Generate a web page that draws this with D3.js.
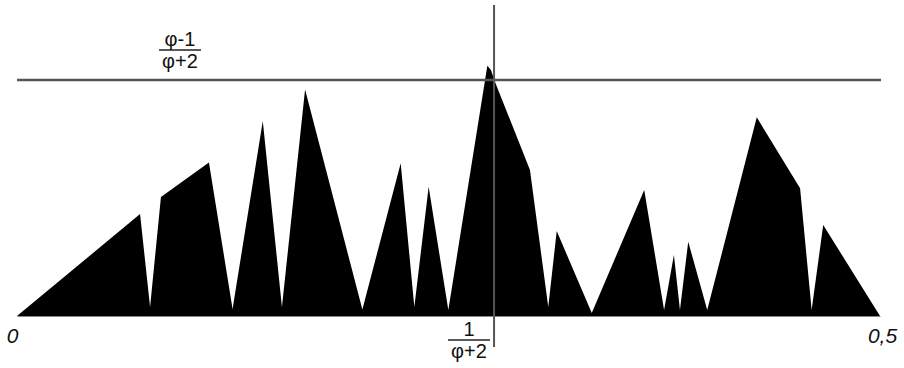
<!DOCTYPE html>
<html>
<head>
<meta charset="utf-8">
<script src="https://cdn.jsdelivr.net/npm/d3@7"></script>
<style>
  body { margin: 0; background: #fff; }
  svg { display: block; }
  text { font-family: "Liberation Sans", Arial, sans-serif; fill: #111; }
</style>
</head>
<body>
<svg id="chart" width="904" height="368"></svg>
<script>
// golden ratio marks
var phi = (1 + Math.sqrt(5)) / 2;
var markX = 1 / (phi + 2);          // vertical line
var markY = (phi - 1) / (phi + 2);  // horizontal line

// outline of the filled curve
var xs = [0, 0.0713, 0.0771, 0.0834, 0.1112, 0.1249, 0.1424, 0.1535, 0.1669, 0.2001,
          0.2223, 0.2302, 0.2385, 0.2499, 0.2725, 0.2746, 0.2769, 0.2972, 0.3078, 0.3127,
          0.3330, 0.3634, 0.3749, 0.3806, 0.3841, 0.3889, 0.3999, 0.4286, 0.4537, 0.4604,
          0.4671, 0.5];
var ys = [0, 0.0738, 0.0065, 0.0861, 0.1111, 0.0051, 0.1411, 0.0065, 0.1639, 0.0047,
          0.1105, 0.0065, 0.0936, 0.0043, 0.1812, 0.1781, 0.1696, 0.1057, 0.0065, 0.0615,
          0.0022, 0.0912, 0.0043, 0.0442, 0.0043, 0.0538, 0.0043, 0.1438, 0.0924, 0.0043,
          0.0659, 0];

var tickVals = [0, 0.5];
var tickLabels = ['0', '0,5'];

var pts = xs.map(function(d, i) { return [d, ys[i]]; });

var svg = d3.select('#chart');

var x = d3.scaleLinear().domain([0, 0.5]).range([17, 880]);
var y = d3.scaleLinear().domain([0, markY]).range([316, 80]);

var area = d3.area()
  .x(function(d) { return x(d[0]); })
  .y0(y(0))
  .y1(function(d) { return y(d[1]); });

svg.append('path')
  .datum(pts)
  .attr('d', area)
  .attr('fill', '#000');

// baseline axis
var axis = d3.axisBottom(x)
  .tickValues(tickVals)
  .tickSize(0)
  .tickPadding(12)
  .tickFormat(function(d, i) { return tickLabels[i]; });

var gx = svg.append('g')
  .attr('transform', 'translate(0,' + y(0) + ')')
  .call(axis);
gx.select('.domain').attr('stroke', '#888');
gx.selectAll('.tick text')
  .attr('font-size', 21)
  .attr('font-style', 'italic')
  .attr('font-family', '"Liberation Sans", Arial, sans-serif')
  .attr('fill', '#222')
  .attr('dx', function(d, i) { return i == 0 ? -5 : 2; });

// guide lines
svg.append('line')
  .attr('x1', x(0)).attr('x2', x(0.5) + 1)
  .attr('y1', y(markY)).attr('y2', y(markY))
  .attr('stroke', '#555').attr('stroke-width', 2.5);

svg.append('line')
  .attr('x1', x(markX)).attr('x2', x(markX))
  .attr('y1', 5).attr('y2', 347)
  .attr('stroke', '#555').attr('stroke-width', 2);

// fraction labels
function fraction(cx, top, num, den) {
  var g = svg.append('g');
  g.append('text').attr('x', cx).attr('y', top + 15)
    .attr('text-anchor', 'middle').attr('font-size', 20).text(num);
  g.append('line')
    .attr('x1', cx - 21).attr('x2', cx + 21)
    .attr('y1', top + 19).attr('y2', top + 19)
    .attr('stroke', '#222').attr('stroke-width', 1.5);
  g.append('text').attr('x', cx).attr('y', top + 37)
    .attr('text-anchor', 'middle').attr('font-size', 20).text(den);
}

fraction(180, 31, 'φ-1', 'φ+2');
fraction(469, 321, '1', 'φ+2');
</script>
</body>
</html>
